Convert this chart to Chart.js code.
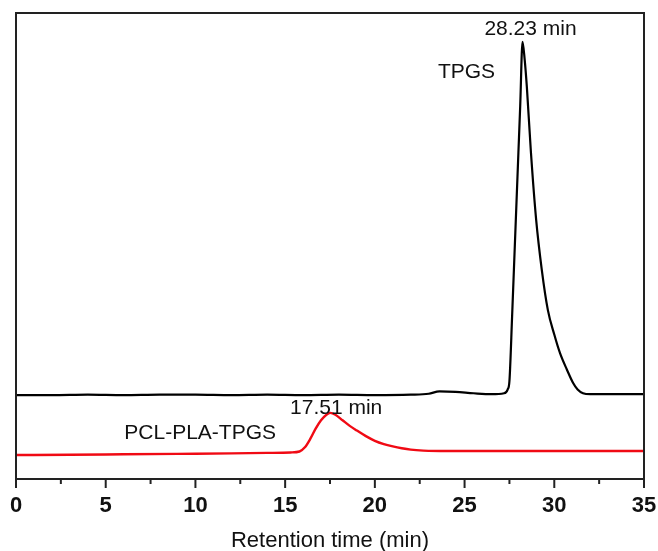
<!DOCTYPE html>
<html>
<head>
<meta charset="utf-8">
<script src="https://cdn.jsdelivr.net/npm/chart.js@4.4.1/dist/chart.umd.min.js"></script>
<style>
  html, body { margin: 0; padding: 0; background: #fff; }
  #wrap { width: 658px; height: 551px; }
</style>
</head>
<body>
<div id="wrap"><canvas id="chart"></canvas></div>
<script>
// retention time (min) / detector signal (a.u.)
const tpgsTime   = [0, 2, 4, 6, 8, 10, 12, 14, 16, 18, 20, 22, 23, 23.6, 24.5, 25.5, 26.5, 27.2, 27.4, 27.5, 27.65, 27.8, 28.0, 28.1, 28.23, 28.35, 28.47, 28.7, 28.99, 29.3, 29.64, 30.0, 30.32, 30.7, 31.05, 31.3, 31.6, 32, 35];
const tpgsSignal = [18.0, 18.0, 18.1, 18.0, 18.1, 18.1, 18.0, 18.1, 18.0, 18.1, 18.0, 18.1, 18.3, 18.8, 18.7, 18.4, 18.2, 18.4, 19.2, 21, 35, 50, 70, 80, 93.8, 90, 84.2, 70, 55.6, 45, 36.3, 31, 27, 23.5, 20.6, 19.2, 18.4, 18.2, 18.2];

const copTime   = [0, 3, 6, 9, 12, 14, 15.3, 15.8, 16.1, 16.4, 16.7, 17.0, 17.3, 17.51, 17.8, 18.2, 18.6, 19.0, 19.5, 20.0, 20.5, 21.0, 21.5, 22.0, 22.7, 24, 27, 30, 35];
const copSignal = [5.15, 5.2, 5.3, 5.4, 5.5, 5.6, 5.7, 5.9, 6.8, 8.6, 10.8, 12.6, 13.8, 14.2, 13.8, 12.6, 11.4, 10.4, 9.2, 8.2, 7.5, 7.0, 6.6, 6.3, 6.1, 6.0, 6.0, 6.0, 6.0];

const seriesNames = ['TPGS', 'PCL-PLA-TPGS'];
const peakTimes   = [28.23, 17.51];
const peakText    = ['28.23 min', '17.51 min'];

const FONT = '"Liberation Sans", Arial, sans-serif';
const toPoints = (xs, ys) => xs.map((x, i) => ({ x, y: ys[i] }));

// frame, ticks and peak notes
const framePlugin = {
  id: 'frame',
  afterDraw(chart) {
    const { ctx, chartArea: a, scales: { x, y } } = chart;
    ctx.save();
    ctx.strokeStyle = '#222';
    ctx.lineWidth = 2;
    ctx.strokeRect(a.left, a.top, a.right - a.left, a.bottom - a.top);
    x.ticks.forEach(t => {
      const px = x.getPixelForValue(t.value);
      const len = t.value % 5 === 0 ? 9 : 5;
      ctx.beginPath();
      ctx.moveTo(px, a.bottom);
      ctx.lineTo(px, a.bottom + len);
      ctx.stroke();
    });

    ctx.fillStyle = '#111';
    ctx.font = '21px ' + FONT;
    ctx.textBaseline = 'middle';
    ctx.textAlign = 'center';
    const sets = [tpgsSignal, copSignal];
    const times = [tpgsTime, copTime];
    peakTimes.forEach((t, i) => {
      const px = x.getPixelForValue(t);
      const py = y.getPixelForValue(sets[i][times[i].indexOf(t)]);
      if (i === 0) {
        ctx.fillText(peakText[i], px + 8, py - 13);
        ctx.fillText(seriesNames[i], px - 56, py + 30);
      } else {
        ctx.fillText(peakText[i], px + 6, py - 5);
        ctx.fillText(seriesNames[i], px - 130, py + 20);
      }
    });
    ctx.restore();
  }
};

new Chart(document.getElementById('chart'), {
  type: 'line',
  data: {
    datasets: [
      {
        label: seriesNames[0],
        data: toPoints(tpgsTime, tpgsSignal),
        borderColor: '#000',
        borderWidth: 2.2,
        pointRadius: 0,
        cubicInterpolationMode: 'monotone'
      },
      {
        label: seriesNames[1],
        data: toPoints(copTime, copSignal),
        borderColor: '#f00a14',
        borderWidth: 2.4,
        pointRadius: 0,
        cubicInterpolationMode: 'monotone'
      }
    ]
  },
  options: {
    responsive: true,
    maintainAspectRatio: false,
    animation: false,
    layout: { padding: { left: 16, right: 14, top: 13, bottom: 0 } },
    plugins: { legend: { display: false }, tooltip: { enabled: false } },
    scales: {
      x: {
        type: 'linear',
        min: 0,
        max: 35,
        grid: { display: false, drawTicks: false },
        border: { display: false },
        ticks: {
          stepSize: 2.5,
          autoSkip: false,
          maxRotation: 0,
          padding: 14,
          color: '#111',
          font: { family: FONT, size: 22, weight: 'bold' },
          callback: v => (v % 5 === 0 ? v : '')
        },
        title: {
          display: true,
          text: 'Retention time (min)',
          color: '#111',
          padding: { top: 0, bottom: -3 },
          font: { family: FONT, size: 22 }
        },
        afterFit(scale) {
          // keep end labels from pushing the plot inwards
          scale.height = 72;
          scale.paddingLeft = 0;
          scale.paddingRight = 0;
        }
      },
      y: {
        display: false,
        min: 0,
        max: 100
      }
    }
  },
  plugins: [framePlugin]
});
</script>
</body>
</html>
